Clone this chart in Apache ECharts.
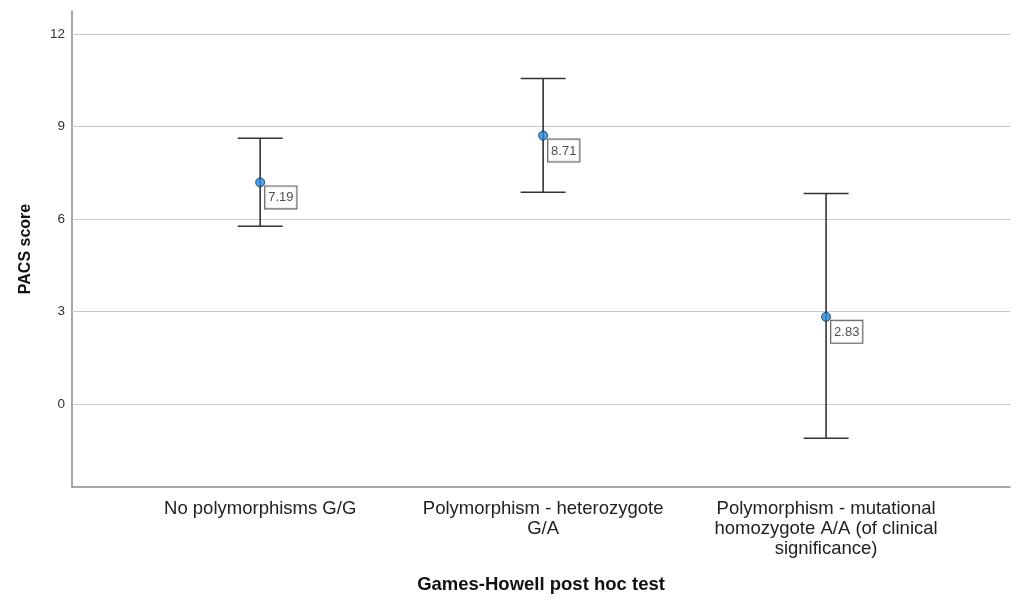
<!DOCTYPE html>
<html>
<head>
<meta charset="utf-8">
<script src="https://cdn.jsdelivr.net/npm/echarts@6/dist/echarts.min.js"></script>
<style>html,body{margin:0;padding:0;background:#fff}#c{width:1018px;height:599px}</style>
</head>
<body>
<div id="c"></div>
<script>
const categories = ['No polymorphisms G/G', 'Polymorphism - heterozygote\nG/A', 'Polymorphism - mutational\nhomozygote A/A (of clinical\nsignificance)'];
const means = [7.19, 8.71, 2.83];
const lower = [5.77, 6.87, -1.11];
const upper = [8.62, 10.56, 6.83];
const yTicks = [0, 3, 6, 9, 12];
const xTicks = [0, 1, 2];

const FONT = '"Liberation Sans", Arial, sans-serif';
const chart = echarts.init(document.getElementById('c'));
chart.setOption({
  animation: false,
  grid: {left: 72, right: 8, top: 11, bottom: 111},
  xAxis: {
    type: 'value', min: -0.665, max: 2.65,
    name: 'Games-Howell post hoc test', nameLocation: 'middle', nameGap: 88,
    nameTextStyle: {fontFamily: FONT, fontSize: 18.5, fontWeight: 'bold', color: '#111'},
    axisLine: {onZero: false, lineStyle: {color: '#888', width: 1.5}},
    axisTick: {show: false},
    splitLine: {show: false},
    axisLabel: {customValues: xTicks, formatter: v => categories[Math.round(v)], fontFamily: FONT, fontSize: 18.5, color: '#222', lineHeight: 20, margin: 12, align: 'center'}
  },
  yAxis: {
    type: 'value', min: -2.69, max: 12.75,
    name: 'PACS score', nameLocation: 'middle', nameGap: 38,
    nameTextStyle: {fontFamily: FONT, fontSize: 16, fontWeight: 'bold', color: '#111'},
    axisLine: {show: true, onZero: false, lineStyle: {color: '#888', width: 1.5}},
    axisTick: {show: false},
    axisLabel: {customValues: yTicks, fontFamily: FONT, fontSize: 13.5, color: '#333', margin: 7, padding: [4, 0, 0, 0]},
    splitLine: {show: false}
  },
  series: [
    {
      type: 'line',
      data: [],
      z: 1,
      markLine: {
        silent: true, symbol: 'none', label: {show: false},
        lineStyle: {color: '#c8c8c8', width: 1, type: 'solid'},
        data: yTicks.map(v => ({yAxis: v}))
      }
    },
    {
      type: 'custom',
      data: means.map((m, i) => [i, lower[i], upper[i]]),
      renderItem: function (params, api) {
        const x = api.value(0);
        const lo = api.coord([x, api.value(1)]);
        const hi = api.coord([x, api.value(2)]);
        const w = 22.5;
        const style = {stroke: '#333', lineWidth: 1.6};
        return {type: 'group', children: [
          {type: 'line', shape: {x1: hi[0], y1: hi[1], x2: lo[0], y2: lo[1]}, style: style},
          {type: 'line', shape: {x1: hi[0] - w, y1: hi[1], x2: hi[0] + w, y2: hi[1]}, style: style},
          {type: 'line', shape: {x1: lo[0] - w, y1: lo[1], x2: lo[0] + w, y2: lo[1]}, style: style}
        ]};
      },
      z: 5
    },
    {
      type: 'scatter',
      data: means.map((m, i) => [i, m]),
      symbol: 'circle', symbolSize: 9,
      itemStyle: {color: '#1e88e5', borderColor: '#1a2a3a', borderWidth: 1},
      label: {
        show: true, formatter: p => p.value[1].toFixed(2),
        position: [10, 9], align: 'left', verticalAlign: 'top',
        fontFamily: FONT, fontSize: 13, color: '#222',
        backgroundColor: '#fff', borderColor: '#333', borderWidth: 1, padding: [5, 3, 4, 3]
      },
      z: 6
    }
  ]
});
</script>
</body>
</html>
